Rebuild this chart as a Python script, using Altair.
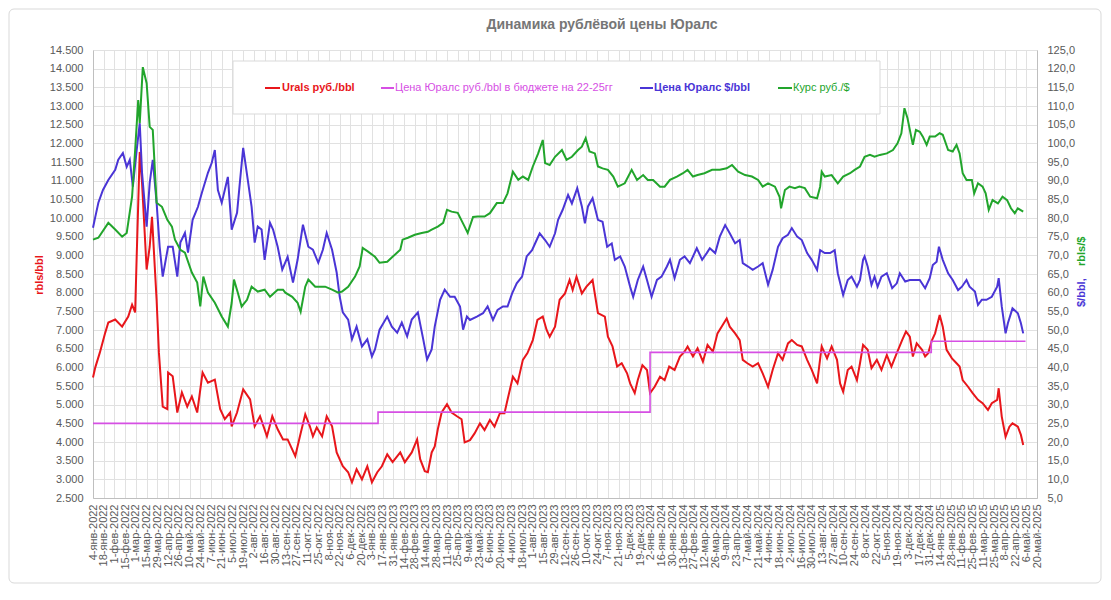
import altair as alt
import pandas as pd

BASE = "2022-01-04"
END = "2025-05-20"

# (days since 4-янв-2022, value) pairs
urals_rub = [(0,5730),(3,6000),(9,6400),(16,6930),(20,7200),(29,7280),(38,7090),(46,7360),(51,7680),(55,7470),(57,8960),(61,11770),(64,10940),(70,8620),(74,9230),(77,10030),(83,7810),(86,6400),(91,4950),(97,4880),(98,5860),(104,5760),(110,4790),(116,5330),(123,4950),(129,5220),(136,4790),(143,5860),(150,5590),(159,5670),(166,4880),(172,4610),(179,4790),(181,4420),(188,4790),(196,5410),(205,5140),(211,4420),(218,4690),(227,4150),(234,4690),(241,4340),(248,4070),(254,4070),(264,3620),(270,4150),(277,4740),(283,4420),(287,4150),(292,4390),(299,4150),(305,4690),(312,4420),(318,3720),(326,3350),(333,3190),(338,2920),(344,3270),(351,3000),(358,3350),(364,2920),(371,3190),(377,3350),(384,3670),(391,3460),(401,3720),(407,3460),(416,3720),(423,4070),(427,3540),(433,3220),(437,3190),(442,3720),(446,3880),(450,4340),(455,4790),(462,5010),(468,4790),(475,4690),(481,4610),(485,3990),
(492,4050),(498,4230),(505,4500),(511,4320),(518,4590),(524,4410),(531,4770),(537,4770),(541,5130),(548,5750),(554,5570),(561,6200),(567,6380),(574,6730),(580,7270),(587,7360),(592,7000),(596,6820),(603,7090),(609,7810),(616,7980),(622,8340),(626,8070),(631,8430),(638,7980),(644,8160),(652,8340),(659,7450),(668,7360),(672,6820),(678,6560),(684,6020),(690,6110),(697,5840),(701,5570),(707,5310),(711,5660),(717,6060),(723,5930),(727,5310),(733,5480),(740,5750),(746,5660),(752,6020),
(759,5930),(766,6290),(772,6420),(776,6560),(783,6290),(789,6510),(796,6150),(802,6600),(809,6420),(815,6910),(822,7140),(827,7310),(831,7090),(838,6910),(844,6730),(848,6200),(854,6110),(861,6020),(868,6110),(874,5840),(881,5480),(887,5930),(894,6380),(900,6200),(907,6640),(912,6730),(919,6600),(925,6560),(932,6200),(938,5930),(945,5570),(951,6560),(958,6240),(964,6560),(971,6200),(975,5570),(979,5350),(985,5930),(990,6020),(997,5660),(1001,6110),
(1005,6600),(1011,6470),(1016,5980),(1023,6200),(1029,5930),(1036,6330),(1042,6020),(1049,6380),(1056,6730),(1061,6960),(1066,6820),(1070,6290),(1075,6640),(1082,6470),(1086,6290),(1090,6380),(1095,6730),(1099,6910),(1105,7400),(1109,7090),(1114,6470),(1121,6240),(1127,6110),(1131,6020),(1135,5660),(1142,5480),(1148,5310),(1155,5130),(1161,5040),(1168,4860),(1173,5040),(1180,5130),(1182,5440),(1186,4680),(1191,4140),(1196,4410),(1200,4500),(1207,4410),(1211,4190),(1214,3920)]

budget_rub = [(0,4500),(372,4800),(727,6400),(1094,6700),(1217,6700)]

urals_usd = [(0,77.4),(3,80.3),(7,84.1),(13,87.5),(20,90.2),(29,92.9),(33,95.6),(39,97.4),(44,93.7),(48,95.6),(52,88.4),(57,98.2),(61,105.4),(64,92.1),(70,77.7),(74,89.4),(78,95.6),(83,84.1),(87,72.3),(91,64.3),(98,72.3),(104,72.3),(110,64.3),(114,73.4),(120,76.0),(124,70.7),(130,79.5),(137,83.0),(142,86.7),(150,92.1),(155,94.8),(159,98.2),(163,87.5),(168,84.1),(172,87.5),(176,91.0),(181,76.9),(188,81.4),(192,90.2),(196,98.8),(202,90.2),(207,83.0),(211,73.4),(215,77.7),(220,76.9),(224,68.8),(231,78.7),(235,76.9),(241,72.3),(247,66.2),(254,69.6),(261,62.7),(267,68.8),(274,78.2),(281,72.3),(287,71.5),(294,68.0),(300,71.5),(305,76.0),(312,71.5),(318,65.4),(322,58.9),(326,54.7),(333,52.8),(338,47.5),(344,50.9),(351,45.6),(358,47.5),(364,42.9),(368,44.8),(374,50.1),(384,53.6),(390,50.9),(397,49.3),(403,52.0),(410,48.3),(416,52.8),(424,54.7),(431,47.5),(436,42.1),(442,44.8),(446,50.9),(453,58.1),(459,60.8),(466,58.9),(472,58.9),(479,56.3),(483,50.1),(488,53.6),
(492,52.7),(501,53.6),(509,54.5),(515,56.3),(522,52.7),(528,55.4),(535,56.3),(541,56.3),(547,59.8),(553,62.5),(560,64.3),(566,69.7),(573,71.4),(579,74.1),(583,75.9),(590,74.1),(596,72.3),(603,75.9),(607,79.5),(613,82.2),(620,86.2),(625,83.9),(632,88.0),(638,83.1),(642,78.6),(646,83.1),(652,85.3),(659,79.5),(665,79.0),(671,72.3),(677,73.2),(681,68.8),(688,69.7),(694,67.0),(701,61.6),(705,58.9),(711,63.4),(718,67.0),(723,63.4),(729,58.9),(736,63.4),(742,64.3),(749,67.0),
(753,68.8),(759,63.9),(766,68.8),(772,69.7),(779,67.9),(788,71.9),(795,68.8),(801,70.6),(805,71.9),(812,70.6),(818,75.0),(825,78.1),(831,75.9),(838,73.2),(844,74.1),(848,67.9),(855,67.0),(861,66.1),(868,67.0),(874,67.9),(881,62.1),(887,66.1),(894,72.3),(900,74.6),(907,75.5),(912,77.3),(919,75.0),(925,74.1),(932,70.6),(938,68.8),(945,66.1),(949,71.4),(955,70.6),(962,70.6),(968,71.4),(972,65.2),(979,59.4),(985,63.4),(990,64.3),(997,61.6),
(1001,63.4),(1005,68.8),(1007,69.7),(1011,67.0),(1016,62.1),(1020,64.3),(1024,61.6),(1029,64.3),(1036,65.2),(1043,61.2),(1049,62.5),(1053,65.2),(1060,63.0),(1066,63.4),(1073,63.4),(1079,63.4),(1086,61.2),(1092,63.9),(1096,67.4),(1101,68.3),(1104,72.3),(1109,68.8),(1116,65.2),(1122,63.4),(1129,60.7),(1134,61.6),(1140,63.4),(1144,61.6),(1151,60.3),(1155,56.7),(1160,58.1),(1166,58.1),(1173,58.9),(1180,61.6),(1182,63.9),(1186,56.3),(1191,49.1),(1194,51.8),(1200,55.8),(1207,54.5),(1211,51.8),(1214,49.1)]

usd_rub = [(0,74.2),(7,74.7),(20,78.7),(29,76.9),(38,75.0),(44,76.0),(51,85.7),(55,98.2),(59,111.6),(61,105.4),(65,120.4),(70,116.1),(74,104.4),(78,103.6),(83,84.1),(90,83.0),(97,79.5),(103,77.7),(107,74.2),(114,71.5),(120,70.7),(129,65.4),(136,62.7),(140,56.3),(144,64.3),(150,60.0),(159,57.3),(168,53.6),(176,50.9),(181,57.3),(184,63.5),(189,60.0),(194,56.3),(201,58.1),(207,61.6),(215,60.3),(224,60.8),(231,58.9),(241,60.8),(248,60.8),(251,60.0),(260,58.9),(267,57.3),(271,54.9),(277,61.6),(281,63.5),(290,61.6),(303,61.6),(312,60.8),(320,60.0),(325,60.3),(333,61.6),(342,64.3),(348,67.0),(352,72.0),(359,71.0),(368,69.6),(374,68.0),(384,68.3),(391,69.6),(401,71.5),(404,74.2),(411,74.7),(420,75.5),(429,76.0),(437,76.3),(442,76.9),(450,77.7),(457,78.7),(462,82.2),(468,81.7),(476,81.4),(485,77.7),(489,76.0),(496,80.3),(502,80.4),(511,80.4),(518,81.3),(527,84.0),(535,84.0),(541,86.6),(548,92.4),(555,90.2),(561,91.1),(568,90.2),(574,93.8),(581,97.3),(587,100.9),(590,94.7),(596,94.2),(603,96.4),(612,98.2),(618,95.6),(625,96.4),(633,98.2),(638,99.1),(643,101.4),(648,97.8),(655,97.3),(659,93.8),(665,93.3),(672,92.9),(679,91.1),(685,88.4),(694,89.3),(703,92.9),(710,90.2),(718,91.5),(724,90.2),(731,90.2),(740,88.4),(746,88.4),(753,90.2),(762,91.1),(770,92.0),(776,92.9),(783,91.1),(789,91.5),(798,92.0),(808,92.9),(818,92.9),(827,93.3),(834,94.2),(842,92.4),(851,91.5),(860,91.1),(868,90.2),(874,88.4),(881,89.3),(890,88.4),(896,85.7),(898,82.6),(903,87.5),(909,88.4),(916,88.0),(922,88.4),(929,88.0),(936,85.7),(945,85.3),(949,88.4),(951,92.4),(955,91.1),(964,91.5),(972,89.3),(979,91.1),(988,92.0),(994,92.9),(1001,93.8),(1007,96.4),(1014,96.9),(1020,96.4),(1027,96.9),(1036,97.3),(1044,98.2),(1050,100.0),(1055,102.7),(1059,109.4),(1063,106.7),(1070,99.6),(1074,103.6),(1079,103.1),(1083,101.8),(1088,99.6),(1092,101.8),(1099,101.8),(1105,102.7),(1109,102.3),(1116,98.2),(1122,97.8),(1127,99.6),(1131,97.3),(1135,92.0),(1140,90.2),(1147,90.2),(1150,86.6),(1155,89.3),(1161,88.4),(1165,86.6),(1169,82.2),(1174,84.8),(1181,83.9),(1187,85.7),(1193,84.8),(1198,82.6),(1203,81.3),(1207,82.6),(1214,81.7)]

left_ticks = list(range(2500, 14501, 500))
right_ticks = list(range(5, 126, 5))
x_ticks = pd.date_range(BASE, END, freq="14D")

RED = "#e8161b"
MAGENTA = "#d64fe4"
BLUE = "#4a35d6"
GREEN = "#22a52c"
GRAY = "#595959"
FONT = "Liberation Sans"

def to_df(pts):
    df = pd.DataFrame(pts, columns=["day", "value"])
    df["date"] = pd.Timestamp(BASE) + pd.to_timedelta(df["day"], unit="D")
    return df

def dt(ts):
    return alt.DateTime(year=ts.year, month=ts.month, date=ts.day)

months_expr = "['янв','фев','мар','апр','май','июн','июл','авг','сен','окт','ноя','дек']"
x_enc = alt.X(
    "date:T",
    scale=alt.Scale(domain=[dt(pd.Timestamp(BASE)), dt(pd.Timestamp(END))]),
    axis=alt.Axis(
        values=[dt(t) for t in x_ticks],
        labelExpr="date(datum.value) + '-' + " + months_expr + "[month(datum.value)] + '-' + year(datum.value)",
        labelAngle=270, title=None, grid=True, gridColor="#e1e1e1",
        ticks=False, domainColor="#bfbfbf", labelColor=GRAY, labelFont=FONT,
        labelFontSize=11, labelPadding=6, labelOverlap=False, labelFlush=False,
    ),
)

y_left = alt.Y(
    "value:Q",
    scale=alt.Scale(domain=[2500, 14500], nice=False, zero=False),
    axis=alt.Axis(
        values=left_ticks, labelExpr="replace(format(datum.value, ','), ',', '.')",
        title=None, grid=True, gridColor="#e1e1e1", ticks=False, domainColor="#bfbfbf",
        labelColor=GRAY, labelFont=FONT, labelFontSize=11, labelPadding=10,
        labelOverlap=False, orient="left",
    ),
)
y_right = alt.Y(
    "value:Q",
    scale=alt.Scale(domain=[5, 125], nice=False, zero=False),
    axis=alt.Axis(
        values=right_ticks, labelExpr="replace(format(datum.value, '.1f'), '.', ',')",
        title=None, grid=False, ticks=False, domainColor="#bfbfbf",
        labelColor=GRAY, labelFont=FONT, labelFontSize=11, labelPadding=10,
        labelOverlap=False, orient="right",
    ),
)

red = alt.Chart(to_df(urals_rub)).mark_line(color=RED, strokeWidth=2).encode(x=x_enc, y=y_left)
budget = alt.Chart(to_df(budget_rub)).mark_line(color=MAGENTA, strokeWidth=1.6, interpolate="step-after").encode(x=x_enc, y=y_left)
blue = alt.Chart(to_df(urals_usd)).mark_line(color=BLUE, strokeWidth=2).encode(x=x_enc, y=y_right)
green = alt.Chart(to_df(usd_rub)).mark_line(color=GREEN, strokeWidth=2).encode(x=x_enc, y=y_right)

left = alt.layer(red, budget)
right = alt.layer(blue, green)

one = pd.DataFrame({"a": [0]})

def text(t, x, y, color, size=11, weight="normal", angle=0, align="left"):
    return alt.Chart(one).mark_text(
        text=t, color=color, fontSize=size, fontWeight=weight, font=FONT,
        angle=angle, align=align, baseline="middle",
    ).encode(x=alt.value(x), y=alt.value(y))

def swatch(x1, x2, y, color):
    return alt.Chart(one).mark_rule(color=color, strokeWidth=2).encode(
        x=alt.value(x1), x2=alt.value(x2), y=alt.value(y))

frame = alt.Chart(one).mark_rect(fillOpacity=0, stroke="#d9d9d9", strokeWidth=1, cornerRadius=5).encode(
    x=alt.value(-84), x2=alt.value(1008), y=alt.value(-41), y2=alt.value(533))
legend_box = alt.Chart(one).mark_rect(fill="white", stroke="#d9d9d9", strokeWidth=1).encode(
    x=alt.value(140), x2=alt.value(787), y=alt.value(11), y2=alt.value(64))

annotations = [
    legend_box,
    swatch(172, 187, 38, RED), text("Urals руб./bbl", 189, 38, RED, weight="bold"),
    swatch(288, 301, 38, MAGENTA), text("Цена Юралс руб./bbl в бюджете  на 22-25гг", 302, 38, MAGENTA),
    swatch(547, 560, 38, BLUE), text("Цена Юралс $/bbl", 561, 38, BLUE, weight="bold"),
    swatch(685, 699, 38, GREEN), text("Курс руб./$", 700, 38, GREEN),
    text("Динамика рублёвой цены Юралс", 509, -25, "#767676", size=14, weight="bold", align="center"),
    text("rbls/bbl", -53, 225, RED, weight="bold", angle=270, align="center"),
    text("$/bbl,", 989, 257, BLUE, weight="bold", angle=270, align="left"),
    text("rbls/$", 989, 216, GREEN, weight="bold", angle=270, align="left"),
]

chart = alt.layer(left, right, frame, *annotations).resolve_scale(y="independent").properties(
    width=944, height=448,
    autosize=alt.AutoSizeParams(type="none"),
    padding={"left": 85, "top": 42, "right": 66, "bottom": 94},
    background="white",
).configure_view(stroke=None)

chart.save("out.html", embed_options={"renderer": "svg", "actions": False})
